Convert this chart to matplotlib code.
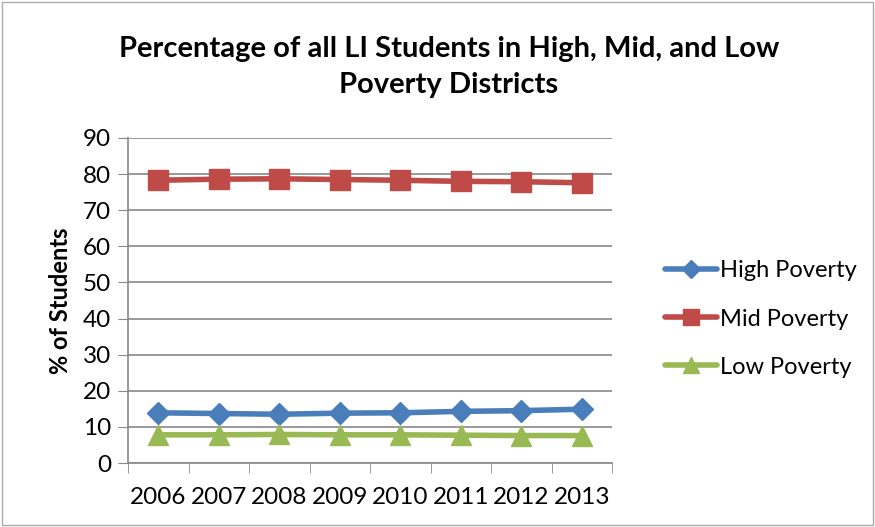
import matplotlib
matplotlib.use("Agg")
import matplotlib.pyplot as plt
from matplotlib.patches import Rectangle

years = ["2006", "2007", "2008", "2009", "2010", "2011", "2012", "2013"]
high = [13.9, 13.7, 13.5, 13.8, 13.9, 14.3, 14.5, 14.9]
mid = [78.3, 78.6, 78.7, 78.5, 78.3, 78.0, 77.9, 77.6]
low = [7.8, 7.8, 7.9, 7.8, 7.8, 7.7, 7.6, 7.6]
yticks = list(range(0, 91, 10))

plt.rcParams['font.family'] = ['Lato', 'DejaVu Sans']

fig = plt.figure(figsize=(8.75, 5.27), dpi=100)
W, H = 875, 527
ax = fig.add_axes([128 / W, 1 - 463 / H, (612 - 128) / W, (463 - 138) / H])

x = list(range(len(years)))
ax.plot(x, high, color='#4A7EBB', lw=4, marker='D', ms=11, label='High Poverty', solid_capstyle='round')
ax.plot(x, mid, color='#BE4B48', lw=4, marker='s', ms=14, label='Mid Poverty', solid_capstyle='round')
ax.plot(x, low, color='#98B954', lw=4, marker='^', ms=14, label='Low Poverty', solid_capstyle='round')

ax.set_xlim(-0.5, len(years) - 0.5)
ax.set_ylim(0, 90)
ax.set_yticks(yticks)
ax.set_xticks(x)
ax.set_xticklabels(years)
ax.set_xticks([i - 0.5 for i in range(len(years) + 1)], minor=True)
ax.tick_params(axis='x', which='major', length=0, pad=17, labelsize=17.5)
ax.tick_params(axis='x', which='minor', length=7, color='#888888', direction='out')
ax.tick_params(axis='y', length=7, color='#888888', direction='out', labelsize=17.5, pad=5)
ax.grid(axis='y', color='#888888', lw=1.2)
ax.set_axisbelow(True)
for s in ['top', 'right']:
    ax.spines[s].set_visible(False)
for s in ['left', 'bottom']:
    ax.spines[s].set_color('#888888')
    ax.spines[s].set_linewidth(1.2)

ax.set_ylabel('% of Students', fontsize=17, fontweight='bold', labelpad=8)

fig.text(449 / W, 1 - 67 / H, 'Percentage of all LI Students in High, Mid, and Low\nPoverty Districts',
         ha='center', va='center', fontsize=21, fontweight='bold', linespacing=1.5)

leg = fig.legend(loc='center left', bbox_to_anchor=(644 / W, 1 - 319 / H), frameon=False,
                 fontsize=17, handlelength=2.2, handletextpad=0.1, labelspacing=1.15, markerscale=0.85)

fig.patches.append(Rectangle((2 / W, 2 / H), 1 - 4 / W, 1 - 4 / H, transform=fig.transFigure,
                             fill=False, edgecolor='#AAAAAA', lw=1))

fig.savefig('out.png', dpi=100)
